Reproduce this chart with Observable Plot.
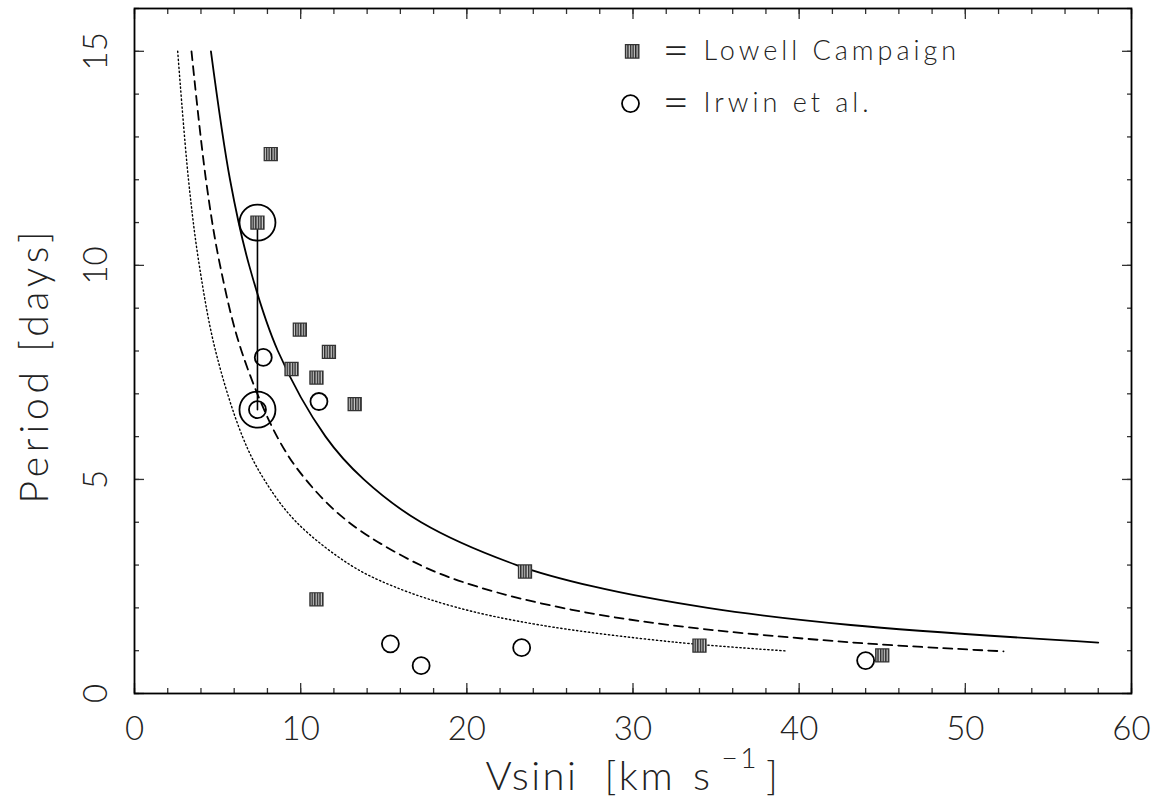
<!DOCTYPE html>
<html>
<head>
<meta charset="utf-8">
<script src="https://cdn.jsdelivr.net/npm/d3@7"></script>
<script src="https://cdn.jsdelivr.net/npm/@observablehq/plot@0.6"></script>
<style>
  html, body { margin: 0; padding: 0; background: #fff; }
  #chart svg { display: block; }
  #chart .legtext text { letter-spacing: 4px; }
  #chart .ytitle text { letter-spacing: 4.8px; }
  #chart .xtitle text { letter-spacing: 2.5px; }
</style>
</head>
<body>
<svg width="0" height="0" style="position:absolute">
  <defs>
    <pattern id="hatch" patternUnits="userSpaceOnUse" width="2.6" height="4" x="0.3">
      <rect width="2.6" height="4" fill="#c8c8c8"></rect>
      <rect width="1.4" height="4" fill="#2a2a2a"></rect>
    </pattern>
  </defs>
</svg>
<div id="chart"></div>
<script>
// Lowell Campaign (hatched squares)
const lowellV = [8.2, 7.4, 9.95, 11.7, 9.45, 10.95, 13.25, 10.95, 23.5, 34.0, 45.0];
const lowellP = [12.6, 11.0, 8.5, 7.98, 7.58, 7.38, 6.76, 2.2, 2.85, 1.12, 0.89];
// Irwin et al. (open circles)
const irwinV = [7.75, 11.1, 7.4, 15.4, 17.25, 23.3, 44.0];
const irwinP = [7.85, 6.82, 6.63, 1.16, 0.65, 1.07, 0.77];
// Same star in both samples (ringed, joined)
const pairV = [7.4, 7.4];
const pairP = [11.0, 6.63];
// Curves
const solidV  = [4.6, 5.75, 6.9, 8.63, 11.5, 13.8, 17.25, 23, 27.6, 34.5, 43.1, 58];
const solidP  = [15, 12, 10, 8, 6, 5, 4, 3, 2.5, 2, 1.6, 1.19];
const dashedV = [3.43, 4.3, 5.15, 6.44, 8.58, 10.3, 12.9, 17.2, 20.6, 25.75, 32.2, 42.9, 52.3];
const dashedP = [15, 12, 10, 8, 6, 5, 4, 3, 2.5, 2, 1.6, 1.2, 0.985];
const dottedV = [2.6, 3.25, 3.9, 4.88, 6.5, 7.8, 9.75, 13, 15.6, 19.5, 24.4, 32.5, 39.2];
const dottedP = [15, 12, 10, 8, 6, 5, 4, 3, 2.5, 2, 1.6, 1.2, 0.995];
// Axes
const xMajor = [0, 10, 20, 30, 40, 50, 60];
const xMinor = d3.range(0, 61, 2);
const yMajor = [0, 5, 10, 15];
const yMinor = d3.range(0, 17, 1);
const xTitleParts = ["Vsini", "[km", "s", "\u22121", "]"];
const yTitle = "Period [days]";
// Legend
const legendLabels = ["Lowell Campaign", "Irwin et al."];
const legendSymV = [29.95, 29.85];
const legendSymP = [15.0, 13.78];
const legendEqV = 31.77;
const legendTextV = 34.24;

const zip = (a, b) => a.map((v, i) => ({v, p: b[i]}));
const lowell = zip(lowellV, lowellP);
const irwin = zip(irwinV, irwinP);
const pair = zip(pairV, pairP);
const solid = zip(solidV, solidP);
const dashed = zip(dashedV, dashedP);
const dotted = zip(dottedV, dottedP);

const FONT = "Lato, 'DejaVu Sans', sans-serif";
const tickStroke = "#333";
const tk = {tickFormat: () => "", label: null, stroke: tickStroke, strokeWidth: 1.3};

const chart = Plot.plot({
  width: 1168,
  height: 805,
  marginLeft: 134,
  marginRight: 37,
  marginTop: 8,
  marginBottom: 112,
  style: {fontFamily: FONT, fontWeight: 300, color: "#000", background: "#fff"},
  x: {domain: [0, 60]},
  y: {domain: [0, 16]},
  marks: [
    // curves
    Plot.line(dotted, {x: "v", y: "p", curve: "catmull-rom", stroke: "#000", strokeWidth: 1.4, strokeDasharray: "1.3,2.7"}),
    Plot.line(dashed, {x: "v", y: "p", curve: "catmull-rom", stroke: "#000", strokeWidth: 1.8, strokeDasharray: "9,6"}),
    Plot.line(solid, {x: "v", y: "p", curve: "catmull-rom", stroke: "#000", strokeWidth: 1.8}),
    // joined pair
    Plot.line(pair, {x: "v", y: "p", stroke: "#000", strokeWidth: 1.6}),
    Plot.dot(pair, {x: "v", y: "p", r: 18, stroke: "#000", strokeWidth: 1.8, fill: "none"}),
    // data
    Plot.dot(irwin, {x: "v", y: "p", r: 8.5, stroke: "#000", strokeWidth: 1.8, fill: "none"}),
    Plot.dot(lowell, {x: "v", y: "p", symbol: "square", r: 7.4, fill: "url(#hatch)", stroke: "#333", strokeWidth: 1.2}),
    // ticks (inward, all four sides)
    Plot.axisX(xMinor, {anchor: "bottom", tickSize: -5, ...tk}),
    Plot.axisX(xMajor, {anchor: "bottom", tickSize: -10, ...tk}),
    Plot.axisX(xMinor, {anchor: "top", tickSize: -5, ...tk}),
    Plot.axisX(xMajor, {anchor: "top", tickSize: -10, ...tk}),
    Plot.axisY(yMinor, {anchor: "left", tickSize: -5, ...tk}),
    Plot.axisY(yMajor, {anchor: "left", tickSize: -10, ...tk}),
    Plot.axisY(yMinor, {anchor: "right", tickSize: -5, ...tk}),
    Plot.axisY(yMajor, {anchor: "right", tickSize: -10, ...tk}),
    Plot.frame({stroke: "#000", strokeWidth: 1.8}),
    // tick labels
    Plot.text(xMajor, {x: d => d, frameAnchor: "bottom", dy: 36, lineAnchor: "middle", textAnchor: "middle", text: d => String(d), fontSize: 33, fontWeight: 300, fill: "#222"}),
    Plot.text(yMajor, {y: d => d, frameAnchor: "left", dx: -38, rotate: -90, lineAnchor: "middle", textAnchor: "middle", text: d => String(d), fontSize: 33, fontWeight: 300, fill: "#222"}),
    // axis titles
    Plot.text([xTitleParts.join(" ")], {frameAnchor: "bottom", dy: 84, lineAnchor: "middle", textAnchor: "middle", text: d => d, fontSize: 40, fontWeight: 300, fill: "#222", className: "xtitle"}),
    Plot.text([yTitle], {frameAnchor: "left", dx: -99, dy: 14, rotate: -90, lineAnchor: "middle", textAnchor: "middle", text: d => d, fontSize: 39, fontWeight: 300, fill: "#222", className: "ytitle"}),
    // legend
    Plot.dot([0], {x: () => legendSymV[0], y: () => legendSymP[0], symbol: "square", r: 7.6, fill: "url(#hatch)", stroke: "#333", strokeWidth: 1.2}),
    Plot.dot([0], {x: () => legendSymV[1], y: () => legendSymP[1], r: 8.5, stroke: "#000", strokeWidth: 1.8, fill: "none"}),
    Plot.text(legendLabels, {x: () => legendEqV, y: (d, i) => legendSymP[i], text: () => "=", textAnchor: "start", lineAnchor: "middle", fontSize: 46, fontWeight: 300, fill: "#222"}),
    Plot.text(legendLabels, {x: () => legendTextV, y: (d, i) => legendSymP[i], text: d => d, textAnchor: "start", lineAnchor: "middle", fontSize: 27, fontWeight: 300, fill: "#222", className: "legtext"})
  ]
});
document.getElementById("chart").appendChild(chart);

// Rebuild the x title with wider word gaps and a raised exponent, then centre it
d3.select(chart).selectAll("g.xtitle text").each(function () {
  const t = d3.select(this);
  t.text(null).attr("text-anchor", "start");
  const gaps = [0, 26, 18, 9, 7];
  const shifts = [0, 0, 0, -22, 22];
  xTitleParts.forEach((s, i) => {
    const ts = t.append("tspan").text(s);
    if (gaps[i]) ts.attr("dx", gaps[i]);
    if (shifts[i]) ts.attr("dy", shifts[i]);
    if (i === 3) ts.attr("font-size", 28);
  });
  const bb = this.getBBox();
  t.attr("x", -bb.width / 2 - bb.x);
});
</script>
</body>
</html>
